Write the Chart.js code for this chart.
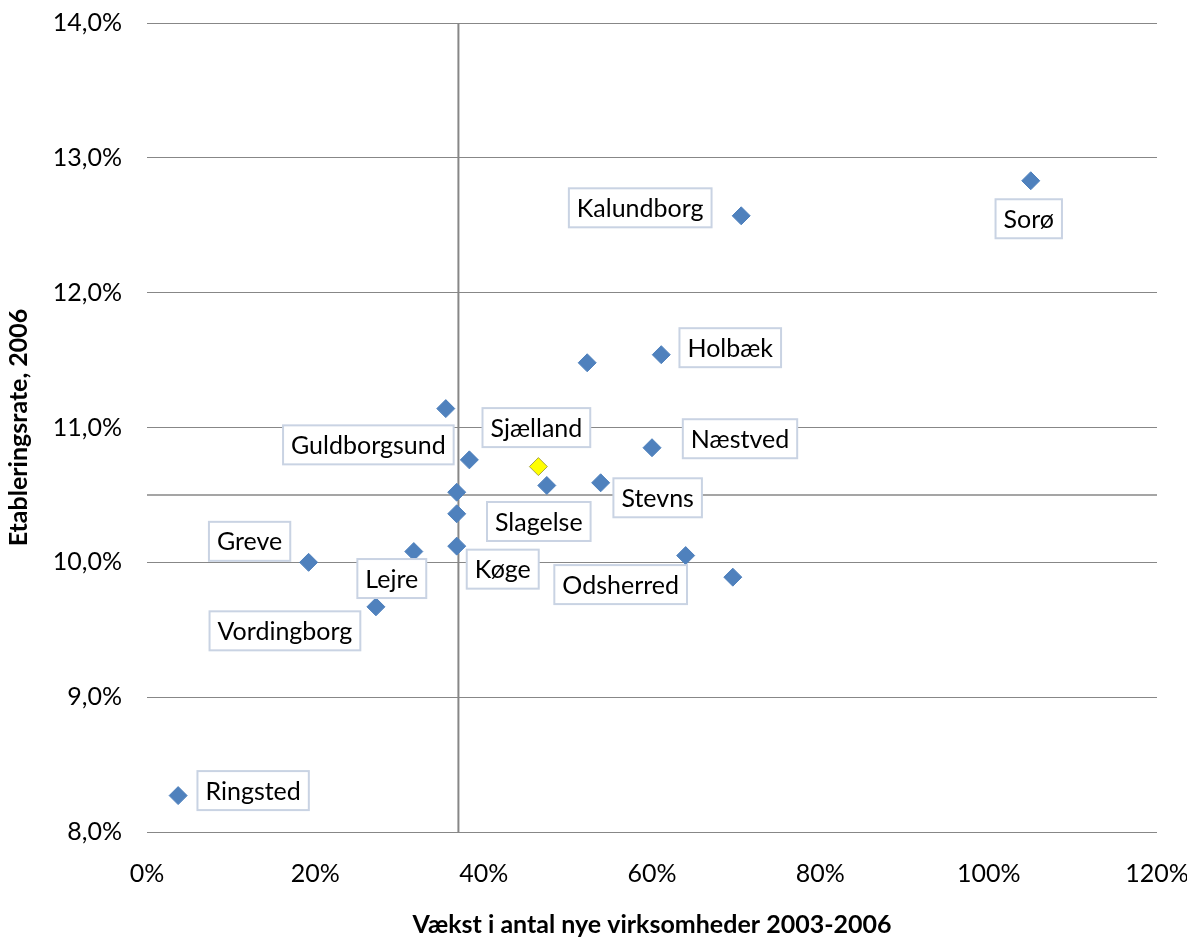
<!DOCTYPE html>
<html>
<head>
<meta charset="utf-8">
<script src="https://cdn.jsdelivr.net/npm/chart.js@4.4.0/dist/chart.umd.min.js"></script>
<style>
  html, body { margin: 0; padding: 0; background: #fff; }
  #wrap { width: 1187px; height: 940px; }
</style>
</head>
<body>
<div id="wrap"><canvas id="chart" width="1187" height="940"></canvas></div>
<script>
// vækst i antal nye virksomheder 2003-2006 (%) og etableringsrate 2006 (%)
let kommuner = ["Ringsted", "Greve", "Vordingborg", "Lejre", "", "Guldborgsund", "", "", "Køge", "Slagelse", "", "Stevns", "Næstved", "Holbæk", "Odsherred", "", "Kalundborg", "Sorø"]
let vaekst = [3.7, 19.2, 27.2, 31.7, 35.5, 38.3, 36.8, 36.8, 36.8, 47.5, 52.3, 53.9, 60.0, 61.1, 64.0, 69.6, 70.6, 105.0]
let etablering = [8.27, 10.0, 9.67, 10.08, 11.14, 10.76, 10.52, 10.36, 10.12, 10.57, 11.48, 10.59, 10.85, 11.54, 10.05, 9.89, 12.57, 12.83]

let regionNavn = "Sjælland"
let regionVaekst = 46.5
let regionEtablering = 10.71

// referencelinjer
let refVaekst = 37.0
let refEtablering = 10.5

let xTicks = [0, 20, 40, 60, 80, 100, 120]
let yTicks = [8, 9, 10, 11, 12, 13, 14]

// placering af etiketter (pixel-forskydning fra punktet)
var labelOffsets = {
  "Ringsted": [75, -5],
  "Greve": [-59, -21],
  "Vordingborg": [-91, 24],
  "Lejre": [-22, 27],
  "Guldborgsund": [-101, -15],
  "Køge": [46, 23],
  "Slagelse": [-8, 36],
  "Stevns": [57, 15],
  "Næstved": [88, -9],
  "Holbæk": [69, -7],
  "Odsherred": [-65, 29],
  "Kalundborg": [-101, -8],
  "Sorø": [-2, 38],
  "Sjælland": [-2, -39]
}

var points = vaekst.map(function (v, i) { return { x: v, y: etablering[i], navn: kommuner[i] } })

var labelPlugin = {
  id: "boxLabels",
  afterDatasetsDraw: function (chart) {
    var ctx = chart.ctx
    ctx.save()
    ctx.font = "25px Lato"
    ctx.textAlign = "center"
    ctx.textBaseline = "middle"
    chart.data.datasets.forEach(function (ds, di) {
      if (!ds.boxLabels) return
      var meta = chart.getDatasetMeta(di)
      meta.data.forEach(function (el, i) {
        var navn = ds.data[i].navn
        if (!navn || !labelOffsets[navn]) return
        var off = labelOffsets[navn]
        var cx = el.x + off[0], cy = el.y + off[1]
        var w = ctx.measureText(navn).width + 16
        var h = 39
        ctx.fillStyle = "#ffffff"
        ctx.fillRect(cx - w / 2, cy - h / 2, w, h)
        ctx.strokeStyle = "#c9d3e3"
        ctx.lineWidth = 2
        ctx.strokeRect(cx - w / 2, cy - h / 2, w, h)
        ctx.fillStyle = "#000000"
        ctx.fillText(navn, cx, cy + 1)
      })
    })
    ctx.restore()
  }
}

var ctx = document.getElementById("chart").getContext("2d")
var chart = new Chart(ctx, {
  type: "scatter",
  data: {
    datasets: [
      {
        type: "line",
        data: [{ x: xTicks[0], y: refEtablering }, { x: xTicks[xTicks.length - 1], y: refEtablering }],
        borderColor: "#878787",
        borderWidth: 1.5,
        pointRadius: 0,
        order: 3
      },
      {
        type: "line",
        data: [{ x: refVaekst, y: yTicks[0] }, { x: refVaekst, y: yTicks[yTicks.length - 1] }],
        borderColor: "#878787",
        borderWidth: 2,
        pointRadius: 0,
        order: 3
      },
      {
        data: points,
        pointStyle: "rectRot",
        pointRadius: 9,
        pointHoverRadius: 9,
        backgroundColor: "#4f81bd",
        borderColor: "#4f81bd",
        borderWidth: 1,
        boxLabels: true,
        order: 2
      },
      {
        data: [{ x: regionVaekst, y: regionEtablering, navn: regionNavn }],
        pointStyle: "rectRot",
        pointRadius: 9,
        pointHoverRadius: 9,
        backgroundColor: "#ffff00",
        borderColor: "#a6a34a",
        borderWidth: 1,
        boxLabels: true,
        order: 1
      }
    ]
  },
  options: {
    responsive: false,
    animation: false,
    layout: { padding: { top: 23, right: 30, left: 0, bottom: 0 } },
    plugins: {
      legend: { display: false },
      tooltip: { enabled: false }
    },
    scales: {
      x: {
        type: "linear",
        min: xTicks[0],
        max: xTicks[xTicks.length - 1],
        afterBuildTicks: function (scale) { scale.ticks = xTicks.map(function (v) { return { value: v } }) },
        afterFit: function (scale) {
          scale.height = 108
          scale.paddingLeft = 0
          scale.paddingRight = 0
        },
        grid: { display: false, drawTicks: false },
        border: { display: false },
        ticks: {
          padding: 27,
          color: "#000",
          font: { family: "Lato", size: 25 },
          callback: function (v) { return v + "%" }
        },
        title: {
          display: true,
          text: "Vækst i antal nye virksomheder 2003-2006",
          color: "#000",
          font: { family: "Lato", size: 25, weight: "bold" },
          padding: { top: 16, bottom: 0 }
        }
      },
      y: {
        type: "linear",
        min: yTicks[0],
        max: yTicks[yTicks.length - 1],
        afterBuildTicks: function (scale) { scale.ticks = yTicks.map(function (v) { return { value: v } }) },
        afterFit: function (scale) {
          scale.width = 147
          scale.paddingTop = 0
          scale.paddingBottom = 0
        },
        grid: { color: "#878787", lineWidth: 1, drawTicks: false },
        border: { display: false },
        ticks: {
          padding: 25,
          color: "#000",
          font: { family: "Lato", size: 25 },
          callback: function (v) { return v.toFixed(1).replace(".", ",") + "%" }
        },
        title: {
          display: true,
          text: "Etableringsrate, 2006",
          color: "#000",
          font: { family: "Lato", size: 25, weight: "bold" },
          padding: { top: 4, bottom: 0 }
        }
      }
    }
  },
  plugins: [labelPlugin]
})
</script>
</body>
</html>
